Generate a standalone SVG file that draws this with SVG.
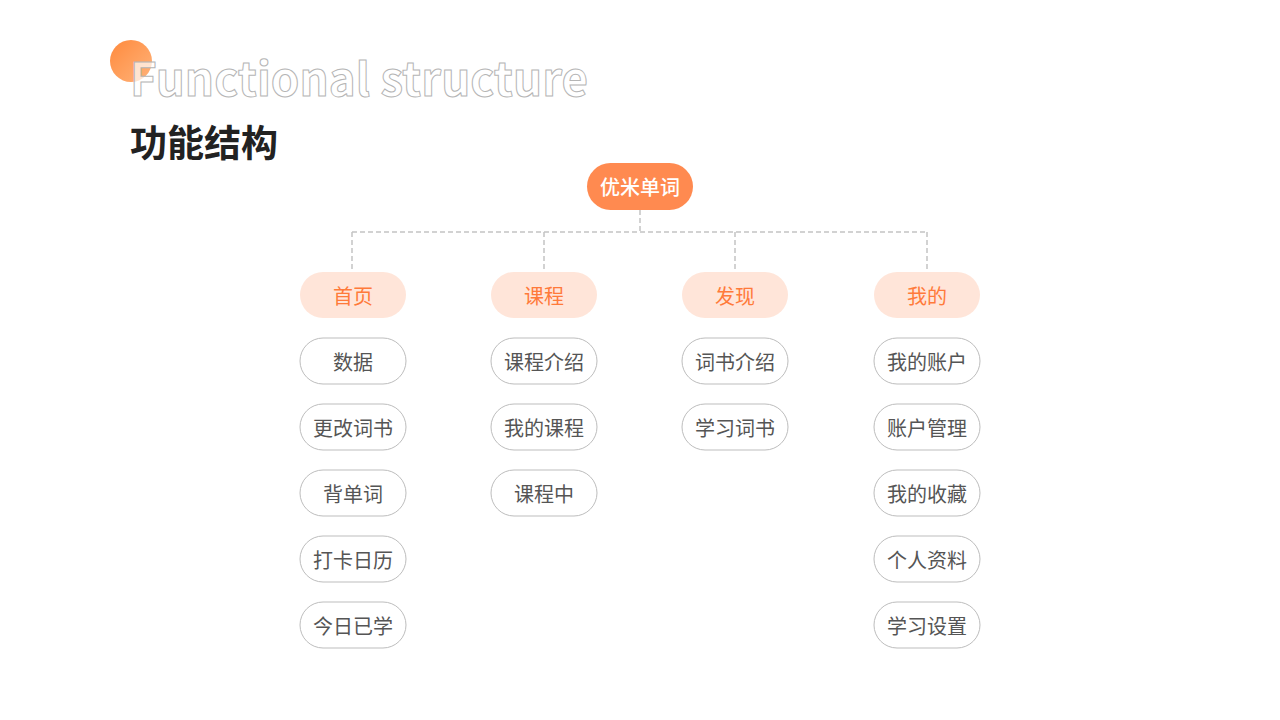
<svg xmlns="http://www.w3.org/2000/svg" width="1280" height="720" viewBox="0 0 1280 720">
<defs>
<linearGradient id="og" x1="0" y1="0" x2="1" y2="1">
<stop offset="0" stop-color="#FF8A3D"/>
<stop offset="1" stop-color="#FFB37A"/>
</linearGradient>
<style>
text{font-family:"Noto Sans CJK SC","Noto Sans",sans-serif;text-anchor:middle;dominant-baseline:central}
.cat rect{fill:#FFE5D9}
.cat text{fill:#FF7A3A;font-size:20px}
.leaf rect{fill:#fff;stroke:#bdbdbd;stroke-width:1}
.leaf text{fill:#555;font-size:20px}
.conn path{fill:none;stroke:#c4c4c4;stroke-width:1.5;stroke-dasharray:5 3}
</style>
</defs>
<rect width="1280" height="720" fill="#fff"/>
<circle cx="131" cy="61" r="21" fill="url(#og)"/>
<text x="130" y="96" style="text-anchor:start;dominant-baseline:auto;font-size:45.7px;font-weight:bold;fill:#fff;fill-opacity:0.7;stroke:#b5b5b5;stroke-width:1">Functional structure</text>
<text x="130" y="157" style="text-anchor:start;dominant-baseline:auto;font-size:37px;font-weight:bold;fill:#222">功能结构</text>
<g class="conn">
<path d="M640 210V232M352 232H927M352 232V272M544 232V272M735 232V272M927 232V272"/>
</g>
<g id="root"><rect x="587" y="163" width="106" height="47" rx="23.5" fill="#FF8A50"/><text x="640" y="186.5" fill="#fff" font-size="20" font-weight="500">优米单词</text></g>
<g id="c1" class="cat"><rect x="300" y="272" width="106" height="46" rx="23"/><text x="353" y="295">首页</text></g>
<g id="c2" class="cat"><rect x="491" y="272" width="106" height="46" rx="23"/><text x="544" y="295">课程</text></g>
<g id="c3" class="cat"><rect x="682" y="272" width="106" height="46" rx="23"/><text x="735" y="295">发现</text></g>
<g id="c4" class="cat"><rect x="874" y="272" width="106" height="46" rx="23"/><text x="927" y="295">我的</text></g>
<g id="l11" class="leaf"><rect x="300" y="338" width="106" height="46" rx="23"/><text x="353" y="361">数据</text></g>
<g id="l12" class="leaf"><rect x="300" y="404" width="106" height="46" rx="23"/><text x="353" y="427">更改词书</text></g>
<g id="l13" class="leaf"><rect x="300" y="470" width="106" height="46" rx="23"/><text x="353" y="493">背单词</text></g>
<g id="l14" class="leaf"><rect x="300" y="536" width="106" height="46" rx="23"/><text x="353" y="559">打卡日历</text></g>
<g id="l15" class="leaf"><rect x="300" y="602" width="106" height="46" rx="23"/><text x="353" y="625">今日已学</text></g>
<g id="l21" class="leaf"><rect x="491" y="338" width="106" height="46" rx="23"/><text x="544" y="361">课程介绍</text></g>
<g id="l22" class="leaf"><rect x="491" y="404" width="106" height="46" rx="23"/><text x="544" y="427">我的课程</text></g>
<g id="l23" class="leaf"><rect x="491" y="470" width="106" height="46" rx="23"/><text x="544" y="493">课程中</text></g>
<g id="l31" class="leaf"><rect x="682" y="338" width="106" height="46" rx="23"/><text x="735" y="361">词书介绍</text></g>
<g id="l32" class="leaf"><rect x="682" y="404" width="106" height="46" rx="23"/><text x="735" y="427">学习词书</text></g>
<g id="l41" class="leaf"><rect x="874" y="338" width="106" height="46" rx="23"/><text x="927" y="361">我的账户</text></g>
<g id="l42" class="leaf"><rect x="874" y="404" width="106" height="46" rx="23"/><text x="927" y="427">账户管理</text></g>
<g id="l43" class="leaf"><rect x="874" y="470" width="106" height="46" rx="23"/><text x="927" y="493">我的收藏</text></g>
<g id="l44" class="leaf"><rect x="874" y="536" width="106" height="46" rx="23"/><text x="927" y="559">个人资料</text></g>
<g id="l45" class="leaf"><rect x="874" y="602" width="106" height="46" rx="23"/><text x="927" y="625">学习设置</text></g>
</svg>
